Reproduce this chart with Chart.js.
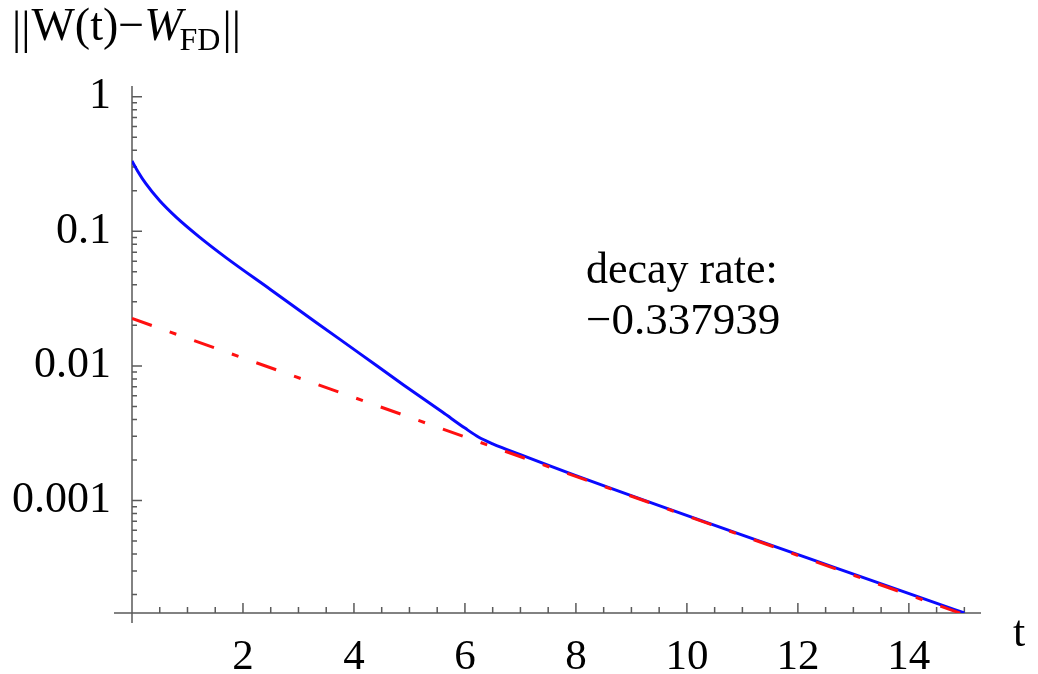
<!DOCTYPE html>
<html>
<head>
<meta charset="utf-8">
<script src="https://cdn.jsdelivr.net/npm/chart.js@4/dist/chart.umd.min.js"></script>
<style>
  html, body { margin: 0; padding: 0; background: #fff; }
  #wrap { width: 1038px; height: 674px; position: relative; }
</style>
</head>
<body>
<div id="wrap"><canvas id="plot"></canvas></div>
<script>
// blue: ||W(t) - W_FD||
const blueT   = [0, 0.1, 0.25, 0.5, 0.8, 1.2, 1.7, 2.5, 3.3, 4.1, 4.9, 5.6, 6.0, 6.25, 6.5, 7.0, 8.0, 15];
const blueVal = [0.3327, 0.2808, 0.2255, 0.1683, 0.1267, 0.0916, 0.0634, 0.0368, 0.0213, 0.01239, 0.00719, 0.00452, 0.00345, 0.00295, 0.00264, 0.00219, 0.00153, 0.000146];

// red dash-dot: fitted exponential, straight on the log axis
const redT   = [0, 15];
const redVal = [0.0225, 0.000142];

const xTickValues = [2, 4, 6, 8, 10, 12, 14];
const yTickValues = [0.001, 0.01, 0.1, 1];
const yTickLabels = ['0.001', '0.01', '0.1', '1'];

const X_MIN = 0, X_MAX = 15.3;
const Y_MIN = 0.000146, Y_MAX = 1.2;

const SERIF = "'Liberation Serif', 'DejaVu Serif', serif";

function toPoints(ts, vs) {
  return ts.map((t, i) => ({ x: t, y: vs[i] }));
}

// Mathematica-style axes: lines through the origin, ticks pointing inward
const axesPlugin = {
  id: 'mmaAxes',
  beforeDatasetsDraw(chart) {
    const { ctx, scales: { x, y } } = chart;
    const x0 = x.getPixelForValue(0);
    const yb = y.getPixelForValue(Y_MIN);
    ctx.save();
    ctx.strokeStyle = '#5a5a5a';
    ctx.lineWidth = 1.5;
    ctx.beginPath();
    ctx.moveTo(x0, y.getPixelForValue(Y_MAX));
    ctx.lineTo(x0, yb + 10);
    ctx.moveTo(x0 - 18, yb);
    ctx.lineTo(x.getPixelForValue(X_MAX), yb);

    // x ticks, every 0.5, long ones on the labels
    for (let k = 1; k * 0.5 <= X_MAX; k++) {
      const v = k * 0.5;
      const px = x.getPixelForValue(v);
      const len = xTickValues.includes(v) ? 10 : 6;
      ctx.moveTo(px, yb);
      ctx.lineTo(px, yb - len);
    }
    // y ticks, log minors
    for (let e = -4; e <= 0; e++) {
      for (let m = 1; m <= 9; m++) {
        const v = m * Math.pow(10, e);
        if (v < Y_MIN || v > Y_MAX) continue;
        const py = y.getPixelForValue(v);
        const len = m === 1 ? 10 : 5;
        ctx.moveTo(x0, py);
        ctx.lineTo(x0 + len, py);
      }
    }
    ctx.stroke();
    ctx.restore();
  },
  afterDraw(chart) {
    const { ctx } = chart;
    ctx.save();
    ctx.fillStyle = '#000';
    ctx.textBaseline = 'alphabetic';

    // axis caption ||W(t)-W_FD||
    let cx = 12;
    const base = 40;
    ctx.font = `46px ${SERIF}`;
    ctx.fillText('||', cx, base + 3);
    cx += ctx.measureText('||').width + 1;
    ctx.fillText('W(t)\u2212', cx, base);
    cx += ctx.measureText('W(t)\u2212').width;
    ctx.font = `italic 46px ${SERIF}`;
    ctx.fillText('W', cx, base);
    cx += ctx.measureText('W').width - 3;
    ctx.font = `32px ${SERIF}`;
    ctx.fillText('FD', cx, base + 10);
    cx += ctx.measureText('FD').width + 2;
    ctx.font = `46px ${SERIF}`;
    ctx.fillText('||', cx, base + 3);

    ctx.font = `44px ${SERIF}`;
    ctx.fillText('t', 1013, 646);

    ctx.fillText('decay rate:', 586, 283);
    ctx.font = `45px ${SERIF}`;
    ctx.fillText('\u22120.337939', 586, 334);
    ctx.restore();
  }
};

new Chart(document.getElementById('plot'), {
  type: 'line',
  data: {
    datasets: [
      {
        label: 'norm',
        data: toPoints(blueT, blueVal),
        borderColor: '#0a0aff',
        borderWidth: 3,
        pointRadius: 0,
        cubicInterpolationMode: 'monotone',
        fill: false,
        order: 1
      },
      {
        label: 'fit',
        data: toPoints(redT, redVal),
        borderColor: '#ff1010',
        borderWidth: 3,
        borderDash: [21, 19, 7, 19],
        pointRadius: 0,
        fill: false,
        order: 0
      }
    ]
  },
  options: {
    responsive: true,
    maintainAspectRatio: false,
    animation: false,
    events: [],
    layout: { padding: { top: 86, right: 57, bottom: 0, left: 0 } },
    plugins: {
      legend: { display: false },
      tooltip: { enabled: false }
    },
    scales: {
      x: {
        type: 'linear',
        min: X_MIN,
        max: X_MAX,
        grid: { display: false, drawTicks: false },
        border: { display: false },
        afterBuildTicks: scale => { scale.ticks = xTickValues.map(v => ({ value: v })); },
        afterFit: scale => { scale.height = 61; },
        ticks: {
          color: '#000',
          font: { family: SERIF, size: 43 },
          padding: 19,
          maxRotation: 0,
          autoSkip: false,
          callback: v => String(v)
        }
      },
      y: {
        type: 'logarithmic',
        min: Y_MIN,
        max: Y_MAX,
        grid: { display: false, drawTicks: false },
        border: { display: false },
        afterBuildTicks: scale => { scale.ticks = yTickValues.map(v => ({ value: v })); },
        afterFit: scale => { scale.width = 132; },
        ticks: {
          color: '#000',
          font: { family: SERIF, size: 44 },
          padding: 21,
          autoSkip: false,
          callback: (v, i) => yTickLabels[i]
        }
      }
    }
  },
  plugins: [axesPlugin]
});
</script>
</body>
</html>
